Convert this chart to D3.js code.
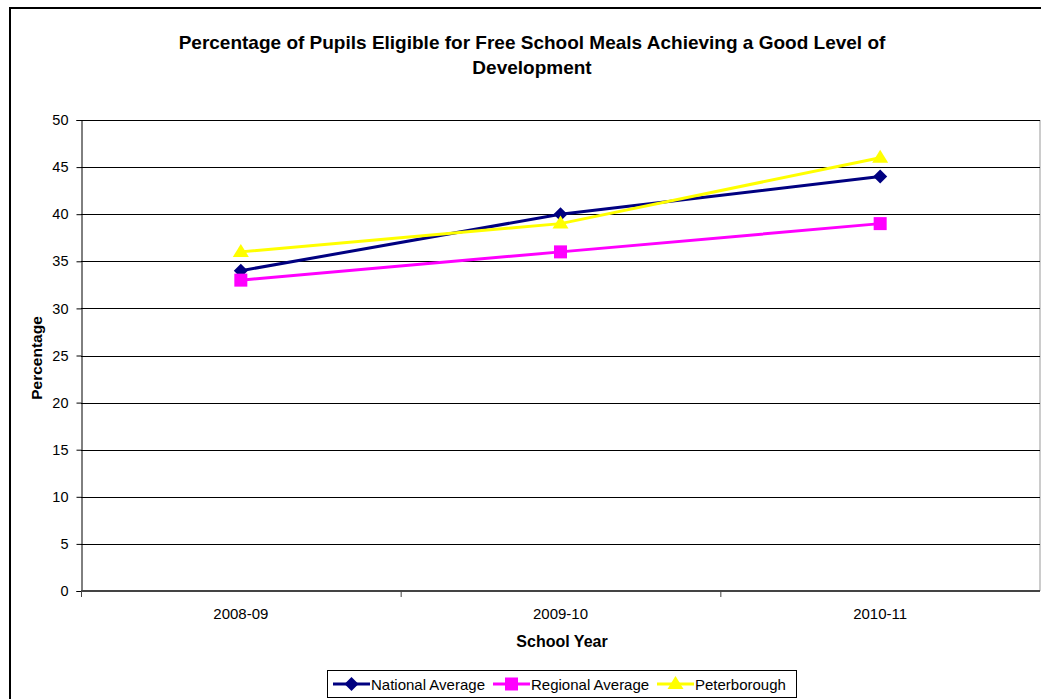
<!DOCTYPE html>
<html><head><meta charset="utf-8">
<script src="https://cdn.jsdelivr.net/npm/d3@7"></script>
<style>body{margin:0;background:#fff}svg{display:block;font-family:"Liberation Sans",Arial,sans-serif}</style>
</head><body>
<svg id="c" width="1041" height="699"></svg>
<script>
const categories = ["2008-09", "2009-10", "2010-11"];
const nationalAverage = [34, 40, 44];
const regionalAverage = [33, 36, 39];
const peterborough = [36, 39, 46];
const yTicks = [0, 5, 10, 15, 20, 25, 30, 35, 40, 45, 50];
const seriesNames = ["National Average", "Regional Average", "Peterborough"];

const series = [
  {name: seriesNames[0], values: nationalAverage, color: "#000080", marker: "diamond"},
  {name: seriesNames[1], values: regionalAverage, color: "#FF00FF", marker: "square"},
  {name: seriesNames[2], values: peterborough, color: "#FFFF00", marker: "triangle"}
];

const svg = d3.select("#c");
svg.append("rect").attr("x", 10).attr("y", 8).attr("width", 1100).attr("height", 800)
  .attr("fill", "none").attr("stroke", "#000").attr("stroke-width", 2);

const L = 81, R = 1040, T = 120, B = 591;
const x = d3.scaleBand().domain(categories).range([L, R]).padding(0);
const y = d3.scaleLinear().domain([0, 50]).range([B, T]);

svg.append("line").attr("x1", R).attr("x2", R).attr("y1", T).attr("y2", B)
  .attr("stroke", "#999").attr("stroke-width", 1);

svg.append("g").selectAll("line").data(yTicks.filter(d => d > 0)).join("line")
  .attr("x1", L).attr("x2", R).attr("y1", d => Math.round(y(d)) + 0.5).attr("y2", d => Math.round(y(d)) + 0.5)
  .attr("stroke", "#000").attr("stroke-width", 1);

const yAxis = d3.axisLeft(y).tickValues(yTicks).tickSize(5).tickPadding(8);
const yg = svg.append("g").attr("transform", `translate(${L + 0.5},0)`).call(yAxis);
yg.select(".domain").attr("stroke", "#000");
yg.selectAll(".tick line").attr("stroke", "#000");
yg.selectAll("text").attr("font-size", 14.5).attr("fill", "#000").attr("font-family", '"Liberation Sans",Arial,sans-serif');

const xg = svg.append("g").attr("transform", `translate(0,${B})`);
xg.append("line").attr("x1", L).attr("x2", R).attr("y1", 0).attr("y2", 0).attr("stroke", "#444").attr("stroke-width", 2);
const bounds = [L, ...categories.map(c => x(c) + x.bandwidth())];
xg.selectAll("line.tk").data(bounds.slice(0, -1)).join("line").attr("class", "tk")
  .attr("x1", d => d + 0.5).attr("x2", d => d + 0.5).attr("y1", 0).attr("y2", 6).attr("stroke", "#444").attr("stroke-width", 1);
xg.selectAll("text").data(categories).join("text")
  .attr("x", d => x(d) + x.bandwidth() / 2).attr("y", 28).attr("text-anchor", "middle")
  .attr("font-size", 15).text(d => d);

const title = svg.append("text").attr("text-anchor", "middle").attr("font-size", 19).attr("font-weight", "bold");
title.append("tspan").attr("x", 532).attr("y", 49).text("Percentage of Pupils Eligible for Free School Meals Achieving a Good Level of");
title.append("tspan").attr("x", 532).attr("y", 74).text("Development");
svg.append("text").attr("x", 562).attr("y", 647).attr("text-anchor", "middle").attr("font-size", 16).attr("font-weight", "bold").text("School Year");
svg.append("text").attr("transform", `translate(42,358) rotate(-90)`).attr("text-anchor", "middle")
  .attr("font-size", 15.5).attr("font-weight", "bold").text("Percentage");

const cx = c => x(c) + x.bandwidth() / 2;
function drawMarker(g, type, color, px, py) {
  if (type === "diamond") {
    g.append("path").attr("d", `M${px},${py - 7}L${px + 7},${py}L${px},${py + 7}L${px - 7},${py}Z`).attr("fill", color);
  } else if (type === "square") {
    g.append("rect").attr("x", px - 6.5).attr("y", py - 6.5).attr("width", 13).attr("height", 13).attr("fill", color);
  } else {
    g.append("path").attr("d", `M${px},${py - 8}L${px + 8},${py + 5}L${px - 8},${py + 5}Z`).attr("fill", color);
  }
}
const line = d3.line().x((d, i) => cx(categories[i])).y(d => y(d));
series.forEach(s => {
  const g = svg.append("g");
  g.append("path").attr("d", line(s.values)).attr("fill", "none").attr("stroke", s.color).attr("stroke-width", 3);
  s.values.forEach((v, i) => drawMarker(g, s.marker, s.color, cx(categories[i]), y(v)));
});

const lg = svg.append("g");
lg.append("rect").attr("x", 327.5).attr("y", 670.5).attr("width", 469).attr("height", 27)
  .attr("fill", "#fff").attr("stroke", "#000").attr("stroke-width", 1);
const lx = [333, 493, 657];
series.forEach((s, i) => {
  const g = lg.append("g");
  g.append("line").attr("x1", lx[i]).attr("x2", lx[i] + 37).attr("y1", 684).attr("y2", 684).attr("stroke", s.color).attr("stroke-width", 3);
  drawMarker(g, s.marker, s.color, lx[i] + 18.5, 684);
  g.append("text").attr("x", lx[i] + 38).attr("y", 689.5).attr("font-size", 15).text(s.name);
});
</script>
</body></html>
